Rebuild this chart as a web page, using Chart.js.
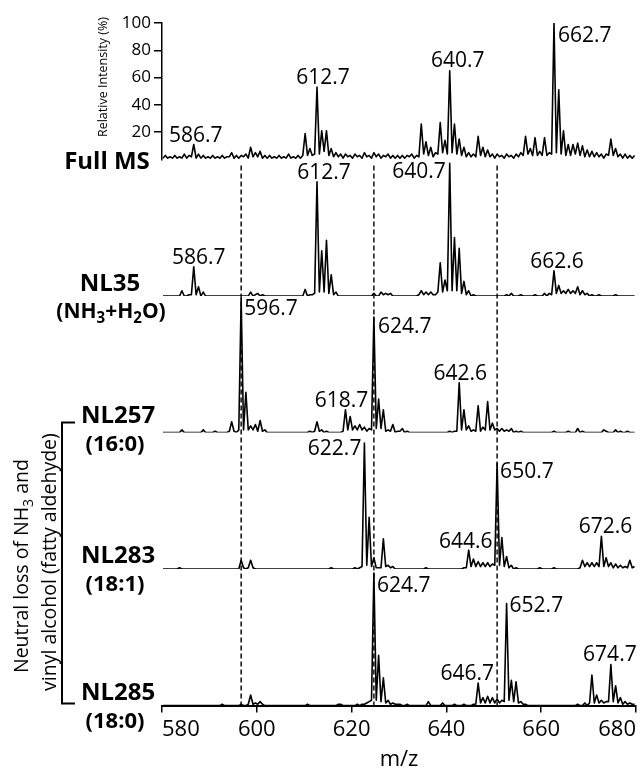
<!DOCTYPE html>
<html>
<head>
<meta charset="utf-8">
<script src="https://cdn.jsdelivr.net/npm/chart.js@4.4.1/dist/chart.umd.min.js"></script>
<style>
html,body{margin:0;padding:0;background:#fff;}
#wrap{width:644px;height:768px;position:relative;}
canvas{display:block;}
</style>
</head>
<body>
<div id="wrap"><canvas id="c" width="644" height="768"></canvas></div>
<script>
// ---------------- DATA ----------------
// m/z grid: first point and step (profile sampled every 0.5 m/z)
const mzStart = 580.2;
const mzStep = 0.5;
const xTicks = [580, 600, 620, 640, 660, 680];
const yTicks = [20, 40, 60, 80, 100];
const markerMz = [596.7, 624.7, 650.7];
const panelNames = ['Full MS', 'NL35', 'NL257', 'NL283', 'NL285'];
const panelSubs = ['', '(NH3+H2O)', '(16:0)', '(18:1)', '(18:0)'];
const yTitle = 'Relative Intensity (%)';
const groupTitle = ['Neutral loss of NH3 and', 'vinyl alcohol (fatty aldehyde)'];

// relative intensity (%) — one row = 10 m/z (20 points)
const fullMS = [
  1,3,1,2,1,3,1,2,1,4, 1,3,2,11,1,4,1,3,1,2,
  1,3,1,2,1,3,1,2,2,5, 1,3,1,3,2,4,1,9,2,5,
  2,6,1,3,1,3,1,2,1,3, 1,2,1,4,1,2,1,3,1,3,
  19,3,8,3,4,53,4,21,6,21, 3,8,2,5,2,4,1,4,2,3,
  1,4,2,3,1,5,2,3,1,5, 2,4,1,3,2,4,1,3,1,3,
  1,3,1,3,2,4,1,3,2,26, 4,13,3,9,2,5,4,27,5,14,
  4,65,5,26,4,15,3,9,2,5, 2,4,2,17,3,9,2,7,2,4,
  1,4,2,3,1,4,2,3,1,4, 2,5,3,17,4,8,3,16,3,6,
  3,16,3,5,4,100,5,51,4,21, 3,11,3,11,4,12,3,10,2,7,
  2,6,2,5,2,4,1,4,3,15, 3,8,2,4,1,4,1,3,1,3
];
const nl35 = [
  0,0,0,0,0,0,0,0,4,0, 0,1,1,22,1,7,0,3,0,0,
  0,0,0,0,0,0,0,0,0,0, 0,0,0,0,0,0,0,3,0,1,
  2,0,1,0,0,0,0,0,0,0, 0,0,0,0,0,0,0,0,0,0,
  5,0,1,1,2,86,3,34,3,42, 2,16,1,3,0,0,0,0,0,0,
  0,0,0,0,0,0,0,0,0,2, 0,0,3,1,2,1,2,0,0,0,
  0,0,0,0,0,0,0,0,1,4, 1,3,1,3,1,1,3,25,3,12,
  4,100,4,44,4,36,2,11,1,4, 0,1,0,0,0,0,0,0,0,0,
  0,0,0,0,0,1,0,2,0,0, 0,1,0,0,0,0,0,1,0,0,
  0,2,0,2,1,19,2,8,2,4, 2,5,2,4,2,7,1,4,1,2,
  0,1,0,0,1,0,0,0,0,0, 0,1,0,0,0,0,0,0,0,0
];
const nl257 = [
  0,0,0,0,0,0,0,0,2,0, 0,0,0,0,0,0,0,2,0,0,
  0,0,1,0,0,0,0,0,1,8, 1,0,2,100,2,30,2,5,2,6,
  1,9,1,2,0,0,0,0,0,0, 0,0,0,0,0,0,0,0,0,0,
  0,0,1,0,1,8,1,2,0,1, 0,0,0,0,0,0,1,17,2,12,
  2,5,2,6,2,4,1,3,2,86, 3,25,3,17,1,2,1,6,0,1,
  1,3,0,1,0,0,0,0,0,0, 0,0,0,0,0,0,0,0,0,0,
  0,1,0,1,1,37,2,17,2,5, 1,2,1,20,1,4,2,23,2,7,
  2,3,1,3,1,2,1,3,0,1, 0,1,0,0,0,0,0,0,0,0,
  0,0,0,0,0,1,0,0,0,0, 0,1,0,0,0,3,0,1,0,0,
  0,0,0,0,0,0,2,1,0,0, 0,2,0,1,0,0,1,0,0,0
];
const nl283 = [
  0,0,0,0,0,0,0,1,0,0, 0,0,0,0,0,0,0,0,0,0,
  0,0,0,0,0,0,0,0,0,0, 0,0,0,7,1,0,1,7,1,0,
  0,0,0,0,0,0,0,0,0,0, 0,0,0,0,0,0,0,0,0,0,
  0,0,0,0,0,0,0,0,0,0, 0,1,0,0,0,0,0,0,0,0,
  0,1,0,1,2,100,3,41,2,9, 1,1,1,24,2,3,1,2,0,0,
  0,0,0,0,0,0,0,0,0,0, 0,1,0,0,0,0,0,0,0,0,
  0,0,0,0,0,0,0,1,1,15, 2,8,2,6,2,5,2,5,2,4,
  3,84,3,25,2,10,1,3,0,1, 0,0,0,0,0,0,0,0,0,1,
  0,0,0,0,0,1,0,0,0,0, 0,0,0,0,0,0,1,7,2,5,
  2,5,2,5,2,26,2,9,2,5, 1,4,1,3,1,2,1,7,1,2
];
const nl285 = [
  0,0,0,0,0,0,0,0,0,0, 0,0,0,0,0,0,0,0,0,0,
  0,0,0,0,0,1,0,0,0,0, 0,0,0,1,0,0,1,8,1,2,
  1,3,1,0,0,0,0,0,0,0, 0,0,0,0,0,0,0,0,0,0,
  0,1,0,0,0,0,0,0,0,0, 0,0,0,0,1,1,0,0,0,0,
  0,0,1,0,1,1,2,3,4,100, 4,38,3,21,2,4,1,2,1,1,
  1,0,0,1,0,0,0,0,0,0, 0,0,3,0,0,0,0,0,2,0,
  0,0,0,1,0,0,0,1,0,0, 0,1,1,17,2,6,2,7,2,6,
  2,5,2,4,3,77,4,19,3,18, 2,3,1,1,0,0,0,0,0,0,
  0,0,0,0,0,0,0,0,0,0, 0,0,0,0,0,1,0,0,2,0,
  2,23,2,8,2,4,2,3,3,31, 3,15,2,6,1,3,1,2,1,1
];

// annotated peaks (m/z)
const fullMSLabels = [586.7, 612.7, 640.7, 662.7];
const nl35Labels   = [586.7, 612.7, 640.7, 662.6];
const nl257Labels  = [596.7, 618.7, 624.7, 642.6];
const nl283Labels  = [622.7, 644.6, 650.7, 672.6];
const nl285Labels  = [624.7, 646.7, 652.7, 674.7];

// ---------------- STYLE / LAYOUT (not data) ----------------
// label placement: [side, dx, dy]  a = above (centered), r = right of peak, l = left of peak
const labelLayouts = [
  [['a',2,-3], ['a',6,-3], ['a',8,-4], ['r',4,19]],
  [['a',5,-3], ['a',7,-3], ['l',-4,15], ['a',3,-3]],
  [['r',3,17], ['a',-4,-3], ['r',4,16], ['a',1,-3]],
  [['l',-3,12], ['a',-3,-2], ['r',3,15], ['a',4,-3]],
  [['r',3,19], ['a',-11,-3], ['r',3,9], ['a',-1,-3]]
];
const panelMax = [100, 102.8, 101.6, 108.3, 102.9];
const panelSeries = [fullMS, nl35, nl257, nl283, nl285];
const panelLabels = [fullMSLabels, nl35Labels, nl257Labels, nl283Labels, nl285Labels];

const REG = '"Open Sans", "DejaVu Sans", sans-serif';

function gridIndex(mz) { return Math.round((mz - mzStart) / mzStep); }

function drawRich(ctx, parts, cx, baseline, size, weight) {
  let w = 0;
  parts.forEach(([t, sub]) => {
    ctx.font = weight + ' ' + (sub ? size * 0.72 : size) + 'px ' + REG;
    w += ctx.measureText(t).width;
  });
  let x = cx - w / 2;
  ctx.textAlign = 'left';
  ctx.textBaseline = 'alphabetic';
  parts.forEach(([t, sub]) => {
    ctx.font = weight + ' ' + (sub ? size * 0.72 : size) + 'px ' + REG;
    ctx.fillText(t, x, baseline + (sub ? size * 0.28 : 0));
    x += ctx.measureText(t).width;
  });
}
function splitSub(text) {
  const parts = [];
  const re = /(H)(\d)/g;
  let last = 0, m;
  while ((m = re.exec(text)) !== null) {
    parts.push([text.slice(last, m.index + 1), false]);
    parts.push([m[2], true]);
    last = m.index + 2;
  }
  parts.push([text.slice(last), false]);
  return parts.filter(p => p[0].length);
}

const markerPlugin = {
  id: 'markers',
  beforeDatasetsDraw(chart) {
    const ctx = chart.ctx, xs = chart.scales.x, y1 = chart.scales.y1;
    ctx.save();
    ctx.setLineDash([5, 3]);
    ctx.lineWidth = 1.5;
    ctx.strokeStyle = '#111';
    markerMz.forEach(mz => {
      const px = xs.getPixelForValue(mz);
      ctx.beginPath();
      ctx.moveTo(px, y1.top + 6);
      ctx.lineTo(px, chart.chartArea.bottom);
      ctx.stroke();
    });
    ctx.restore();
  }
};

const peakLabelPlugin = {
  id: 'peakLabels',
  afterDatasetsDraw(chart) {
    const ctx = chart.ctx, xs = chart.scales.x;
    ctx.save();
    ctx.fillStyle = '#000';
    ctx.font = '21px ' + REG;
    ctx.textBaseline = 'alphabetic';
    panelLabels.forEach((list, pi) => {
      const ys = chart.scales['y' + pi];
      list.forEach((mz, li) => {
        const k = gridIndex(mz);
        const px = xs.getPixelForValue(mzStart + k * mzStep);
        const py = ys.getPixelForValue(panelSeries[pi][k]);
        const [side, dx, dy] = labelLayouts[pi][li];
        ctx.textAlign = side === 'a' ? 'center' : (side === 'r' ? 'left' : 'right');
        ctx.fillText(mz.toFixed(1), px + dx, py + dy);
      });
    });
    ctx.restore();
  }
};

const sidePlugin = {
  id: 'sideLabels',
  afterDraw(chart) {
    const ctx = chart.ctx;
    const b = i => chart.scales['y' + i].bottom;
    ctx.save();
    ctx.fillStyle = '#000';
    const namePos = [[107, 0.5], [110, -14], [118, -18], [118, -14.5], [118, -14]];
    const subPos = [null, [111, 14], [115, 11], [115, 13.5], [115, 14]];
    panelNames.forEach((n, i) => {
      const size = 24;
      drawRich(ctx, [[n, false]], namePos[i][0], b(i) + namePos[i][1] + size * 0.36, size, 'bold');
      if (subPos[i]) {
        const s = i === 1 ? 21 : 22;
        drawRich(ctx, splitSub(panelSubs[i]), subPos[i][0], b(i) + subPos[i][1] + s * 0.36, s, 'bold');
      }
    });
    // y-axis title of the Full MS panel
    const y0 = chart.scales.y0;
    ctx.save();
    ctx.translate(y0.left + 11, y0.top + 54);
    ctx.rotate(-Math.PI / 2);
    drawRich(ctx, [[yTitle, false]], 0, 0, 12.5, 'normal');
    ctx.restore();
    // bracket + group title
    const top = b(2) - 10, bot = b(4) - 2;
    ctx.strokeStyle = '#000';
    ctx.lineWidth = 2;
    ctx.beginPath();
    ctx.moveTo(75, top); ctx.lineTo(62, top); ctx.lineTo(62, bot); ctx.lineTo(75, bot);
    ctx.stroke();
    ctx.save();
    ctx.translate(0, (top + bot) / 2);
    ctx.rotate(-Math.PI / 2);
    drawRich(ctx, splitSub(groupTitle[0]), -3, 28, 19.5, 'normal');
    drawRich(ctx, [[groupTitle[1], false]], 1, 56, 19.5, 'normal');
    ctx.restore();
    ctx.restore();
  }
};

// ---------------- CHART ----------------
const scales = {
  x: {
    type: 'linear', position: 'bottom', min: 580, max: 680,
    afterBuildTicks: s => { s.ticks = xTicks.map(v => ({value: v})); },
    grid: {display: true, drawOnChartArea: false, drawTicks: true, tickLength: 7, color: '#000', lineWidth: 1.5},
    border: {display: true, color: '#000', width: 2},
    ticks: {color: '#000', align: 'inner', padding: 6, maxRotation: 0, autoSkip: false,
            font: {family: 'Open Sans', size: 22, lineHeight: 1}},
    title: {display: true, text: 'm/z', color: '#000', padding: {top: 5, bottom: 0},
            font: {family: 'Open Sans', size: 22, lineHeight: 0.7}}
  }
};
panelSeries.forEach((_, i) => {
  const s = {
    type: 'linear', position: 'left', stack: 'panels', stackWeight: 1, weight: 5 - i,
    min: 0, max: panelMax[i], display: i === 0,
    grid: {display: true, drawOnChartArea: false, drawTicks: true, tickLength: 8, color: '#000', lineWidth: 1.5},
    border: {display: true, color: '#000', width: 1.5},
    ticks: {color: '#000', padding: 3, autoSkip: false, font: {family: 'Open Sans', size: 17}}
  };
  if (i === 0) {
    s.afterBuildTicks = sc => { sc.ticks = yTicks.map(v => ({value: v})); };
    s.afterFit = sc => { sc.width = 66; };
  }
  scales['y' + i] = s;
});

new Chart(document.getElementById('c'), {
  type: 'line',
  data: {
    datasets: panelSeries.map((vals, i) => ({
      label: panelNames[i],
      data: vals.map((v, k) => ({x: mzStart + k * mzStep, y: v})),
      yAxisID: 'y' + i,
      xAxisID: 'x',
      borderColor: '#000',
      borderWidth: 1.6,
      borderJoinStyle: 'round',
      pointRadius: 0,
      tension: 0,
      fill: false
    }))
  },
  options: {
    responsive: false,
    animation: false,
    layout: {padding: {left: 96, right: 8, top: 23, bottom: 1}},
    plugins: {legend: {display: false}, tooltip: {enabled: false}},
    scales
  },
  plugins: [markerPlugin, peakLabelPlugin, sidePlugin]
});
</script>
</body>
</html>
